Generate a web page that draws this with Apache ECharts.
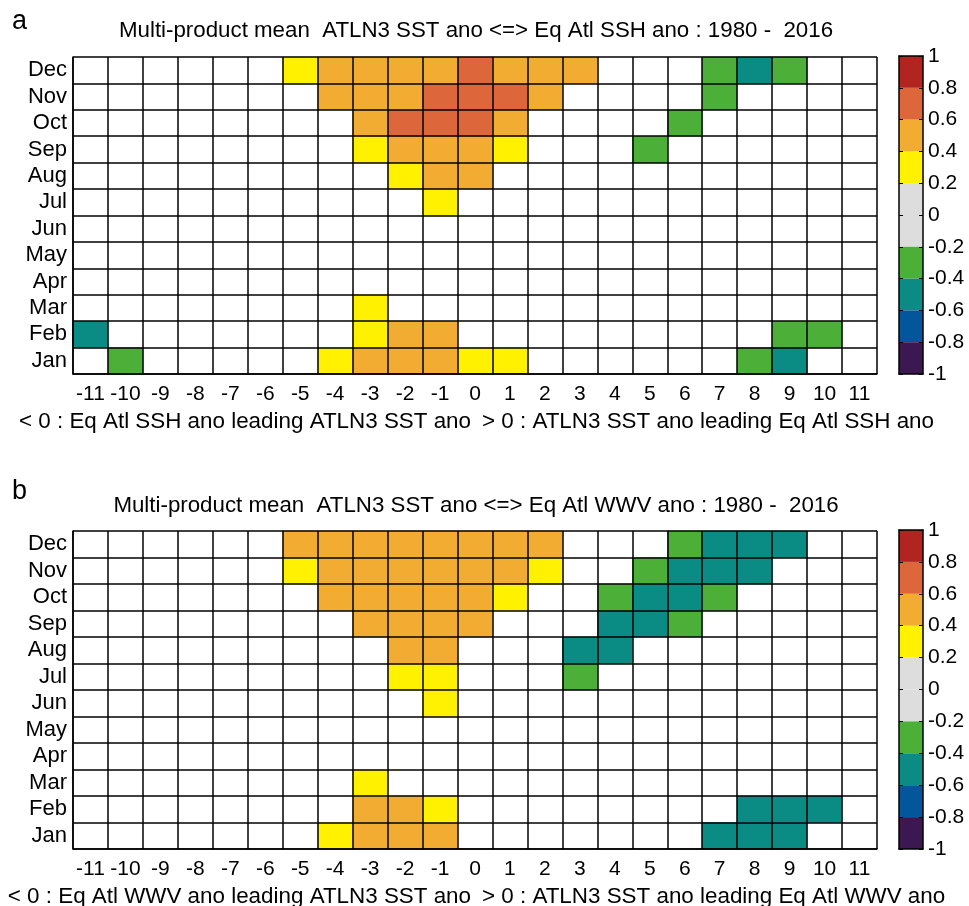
<!DOCTYPE html>
<html><head><meta charset="utf-8">
<script src="https://cdn.jsdelivr.net/npm/echarts@6/dist/echarts.min.js"></script>
<style>html,body{margin:0;padding:0;background:#fff}#c{width:969px;height:906px}</style>
</head><body><div id="c"></div>
<script>
// ---------- data ----------
const lags = [-11,-10,-9,-8,-7,-6,-5,-4,-3,-2,-1,0,1,2,3,4,5,6,7,8,9,10,11];
const lagLabels = lags.map(String);
const months = ['Jan','Feb','Mar','Apr','May','Jun','Jul','Aug','Sep','Oct','Nov','Dec'];
const colorEdges = [-1,-0.8,-0.6,-0.4,-0.2,0,0.2,0.4,0.6,0.8,1];
const colorBins = ['#3B1851','#03569A','#0A8B83','#4CAF37','#DDDDDD','#DDDDDD','#FFF100','#F2AC32','#DD673B','#B1241F'];

const titleA = 'Multi-product mean  ATLN3 SST ano <=> Eq Atl SSH ano : 1980 -  2016';
const titleB = 'Multi-product mean  ATLN3 SST ano <=> Eq Atl WWV ano : 1980 -  2016';
const descA = ['< 0 : Eq Atl SSH ano leading ATLN3 SST ano', '> 0 : ATLN3 SST ano leading Eq Atl SSH ano'];
const descB = ['< 0 : Eq Atl WWV ano leading ATLN3 SST ano', '> 0 : ATLN3 SST ano leading Eq Atl WWV ano'];

// significant correlations only: [lag, month, r]
const sshCells = [
  [-10,'Jan',-0.3],[-4,'Jan',0.3],[-3,'Jan',0.5],[-2,'Jan',0.5],[-1,'Jan',0.5],[0,'Jan',0.3],[1,'Jan',0.3],[8,'Jan',-0.3],[9,'Jan',-0.5],
  [-11,'Feb',-0.5],[-3,'Feb',0.3],[-2,'Feb',0.5],[-1,'Feb',0.5],[9,'Feb',-0.3],[10,'Feb',-0.3],
  [-3,'Mar',0.3],
  [-1,'Jul',0.3],
  [-2,'Aug',0.3],[-1,'Aug',0.5],[0,'Aug',0.5],
  [-3,'Sep',0.3],[-2,'Sep',0.5],[-1,'Sep',0.5],[0,'Sep',0.5],[1,'Sep',0.3],[5,'Sep',-0.3],
  [-3,'Oct',0.5],[-2,'Oct',0.7],[-1,'Oct',0.7],[0,'Oct',0.7],[1,'Oct',0.5],[6,'Oct',-0.3],
  [-4,'Nov',0.5],[-3,'Nov',0.5],[-2,'Nov',0.5],[-1,'Nov',0.7],[0,'Nov',0.7],[1,'Nov',0.7],[2,'Nov',0.5],[7,'Nov',-0.3],
  [-5,'Dec',0.3],[-4,'Dec',0.5],[-3,'Dec',0.5],[-2,'Dec',0.5],[-1,'Dec',0.5],[0,'Dec',0.7],[1,'Dec',0.5],[2,'Dec',0.5],[3,'Dec',0.5],[7,'Dec',-0.3],[8,'Dec',-0.5],[9,'Dec',-0.3]
];
const wwvCells = [
  [-4,'Jan',0.3],[-3,'Jan',0.5],[-2,'Jan',0.5],[-1,'Jan',0.5],[7,'Jan',-0.5],[8,'Jan',-0.5],[9,'Jan',-0.5],
  [-3,'Feb',0.5],[-2,'Feb',0.5],[-1,'Feb',0.3],[8,'Feb',-0.5],[9,'Feb',-0.5],[10,'Feb',-0.5],
  [-3,'Mar',0.3],
  [-1,'Jun',0.3],
  [-2,'Jul',0.3],[-1,'Jul',0.3],[3,'Jul',-0.3],
  [-2,'Aug',0.5],[-1,'Aug',0.5],[3,'Aug',-0.5],[4,'Aug',-0.5],
  [-3,'Sep',0.5],[-2,'Sep',0.5],[-1,'Sep',0.5],[0,'Sep',0.5],[4,'Sep',-0.5],[5,'Sep',-0.5],[6,'Sep',-0.3],
  [-4,'Oct',0.5],[-3,'Oct',0.5],[-2,'Oct',0.5],[-1,'Oct',0.5],[0,'Oct',0.5],[1,'Oct',0.3],[4,'Oct',-0.3],[5,'Oct',-0.5],[6,'Oct',-0.5],[7,'Oct',-0.3],
  [-5,'Nov',0.3],[-4,'Nov',0.5],[-3,'Nov',0.5],[-2,'Nov',0.5],[-1,'Nov',0.5],[0,'Nov',0.5],[1,'Nov',0.5],[2,'Nov',0.3],[5,'Nov',-0.3],[6,'Nov',-0.5],[7,'Nov',-0.5],[8,'Nov',-0.5],
  [-5,'Dec',0.5],[-4,'Dec',0.5],[-3,'Dec',0.5],[-2,'Dec',0.5],[-1,'Dec',0.5],[0,'Dec',0.5],[1,'Dec',0.5],[2,'Dec',0.5],[6,'Dec',-0.3],[7,'Dec',-0.5],[8,'Dec',-0.5],[9,'Dec',-0.5]
];

// ---------- chart ----------
const FONT = "'Liberation Sans', Arial, Helvetica, sans-serif";
const LW = 1.5;
const chart = echarts.init(document.getElementById('c'), null, {renderer: 'canvas'});

const heatGrids = [
  {left: 73, top: 57, width: 804, height: 317},
  {left: 73, top: 531, width: 804, height: 318}
];
const cbGrids = [
  {left: 899, top: 56, width: 24, height: 318},
  {left: 899, top: 530, width: 24, height: 319}
];

const xAxes = [], yAxes = [], series = [];
heatGrids.forEach((g, i) => {
  xAxes.push({
    type: 'category', gridIndex: i, data: lagLabels, z: 10,
    axisLine: {onZero: false, lineStyle: {color: '#000', width: LW}},
    axisTick: {inside: true, alignWithLabel: true, length: 7, interval: 0, lineStyle: {color: '#000', width: 1.3}},
    axisLabel: {interval: 0, color: '#000', fontSize: 21, fontFamily: FONT, margin: 10},
    splitLine: {show: true, interval: 0, lineStyle: {color: '#000', width: LW}}
  });
  yAxes.push({
    type: 'category', gridIndex: i, data: months, z: 10,
    axisLine: {onZero: false, lineStyle: {color: '#000', width: LW}},
    axisTick: {inside: true, alignWithLabel: true, length: 8, interval: 0, lineStyle: {color: '#000', width: 1.3}},
    axisLabel: {interval: 0, color: '#000', fontSize: 22, fontFamily: FONT, margin: 6},
    splitLine: {show: true, interval: 0, lineStyle: {color: '#000', width: LW}}
  });
});
const allGrids = heatGrids.concat(cbGrids);

series.push({
  type: 'heatmap', xAxisIndex: 0, yAxisIndex: 0,
  data: sshCells.map(c => [String(c[0]), c[1], c[2]]),
  emphasis: {disabled: true}, progressive: 0
});
series.push({
  type: 'heatmap', xAxisIndex: 1, yAxisIndex: 1,
  data: wwvCells.map(c => [String(c[0]), c[1], c[2]]),
  emphasis: {disabled: true}, progressive: 0
});

// colorbars
cbGrids.forEach((g, k) => {
  const gi = 2 + k;
  const xBase = xAxes.length;
  xAxes.push({type: 'category', gridIndex: gi, data: ['cb'], position: 'bottom', z: 10,
    axisLine: {onZero: false, lineStyle: {color: '#000', width: LW}}, axisTick: {show: false}, axisLabel: {show: false}});
  xAxes.push({type: 'category', gridIndex: gi, data: ['cb'], position: 'top', z: 10,
    axisLine: {onZero: false, lineStyle: {color: '#000', width: LW}}, axisTick: {show: false}, axisLabel: {show: false}});
  const yBase = yAxes.length;
  yAxes.push({type: 'value', gridIndex: gi, min: -1, max: 1, interval: 0.2, position: 'right', z: 10,
    axisLine: {show: true, onZero: false, lineStyle: {color: '#000', width: LW}},
    axisTick: {show: true, inside: true, length: 4, lineStyle: {color: '#000', width: 1}},
    axisLabel: {color: '#000', fontSize: 21, fontFamily: FONT, margin: 5,
      formatter: v => String(Math.round(v * 10) / 10)},
    splitLine: {show: false}});
  yAxes.push({type: 'value', gridIndex: gi, min: -1, max: 1, interval: 0.2, position: 'left', z: 10,
    axisLine: {show: true, onZero: false, lineStyle: {color: '#000', width: LW}},
    axisTick: {show: true, inside: true, length: 4, lineStyle: {color: '#000', width: 1}},
    axisLabel: {show: false}, splitLine: {show: false}});
  // positive bins upward from 0, then negative bins downward from 0
  const order = [5,6,7,8,9,4,3,2,1,0];
  order.forEach(b => {
    const lo = colorEdges[b], hi = colorEdges[b + 1];
    const h = lo >= 0 ? (hi - lo) : -(hi - lo);
    series.push({
      type: 'bar', xAxisIndex: xBase, yAxisIndex: yBase, stack: 'cb' + k,
      barWidth: '100%', barCategoryGap: 0, silent: true,
      itemStyle: {color: colorBins[b]},
      data: [h]
    });
  });
});

const pieces = colorBins.map((c, i) => {
  const p = {gte: colorEdges[i], color: c};
  if (i === colorBins.length - 1) p.lte = colorEdges[i + 1]; else p.lt = colorEdges[i + 1];
  return p;
});

function txt(text, x, y, size, align) {
  return {type: 'text', x: x, y: y, silent: true,
    style: {text: text, font: size + 'px ' + FONT, fill: '#000', textAlign: align, textVerticalAlign: 'middle'}};
}

chart.setOption({
  animation: false,
  backgroundColor: '#fff',
  grid: allGrids.map(g => Object.assign({containLabel: false}, g)),
  xAxis: xAxes,
  yAxis: yAxes,
  visualMap: {type: 'piecewise', show: false, seriesIndex: [0, 1], dimension: 2, pieces: pieces},
  series: series,
  graphic: [
    txt('a', 12, 22, 27, 'left'),
    txt(titleA, 476, 31, 22.3, 'center'),
    txt(descA[0], 471, 422, 22.4, 'right'),
    txt(descA[1], 482, 422, 22.4, 'left'),
    txt('b', 12, 492, 27, 'left'),
    txt(titleB, 476, 506, 22.3, 'center'),
    txt(descB[0], 471, 897, 22.4, 'right'),
    txt(descB[1], 482, 897, 22.4, 'left')
  ]
});
</script>
</body></html>
